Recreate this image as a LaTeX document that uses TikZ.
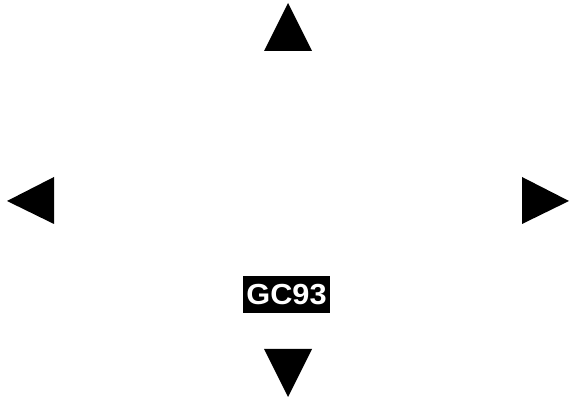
\documentclass[tikz,border=0pt]{standalone}
\usepackage{fontspec}
\setmainfont{Liberation Sans}
\usepackage{tikz}
\usetikzlibrary{positioning}

\begin{document}
\begin{tikzpicture}[x=0.5pt, y=-0.5pt]
        \useasboundingbox (0,0) rectangle (572,399);
        
        % arrow heads
        \fill[black] (288,3) -- (312,51) -- (264,51) -- cycle;
        \fill[black] (288,397) -- (312,349) -- (264,349) -- cycle;
        \fill[black] (7,201) -- (54,177) -- (54,224) -- cycle;
        \fill[black] (569,201) -- (522,177) -- (522,224) -- cycle;
        
        \node[fill=black, text=white, font=\fontsize{14.5}{16}\selectfont\bfseries,
              minimum width=43.5pt, minimum height=18.5pt, inner sep=0pt]
              (label) at (286.5,294.5) {\scalebox{1.06}[1]{GC93}};
    \end{tikzpicture}
\end{document}
